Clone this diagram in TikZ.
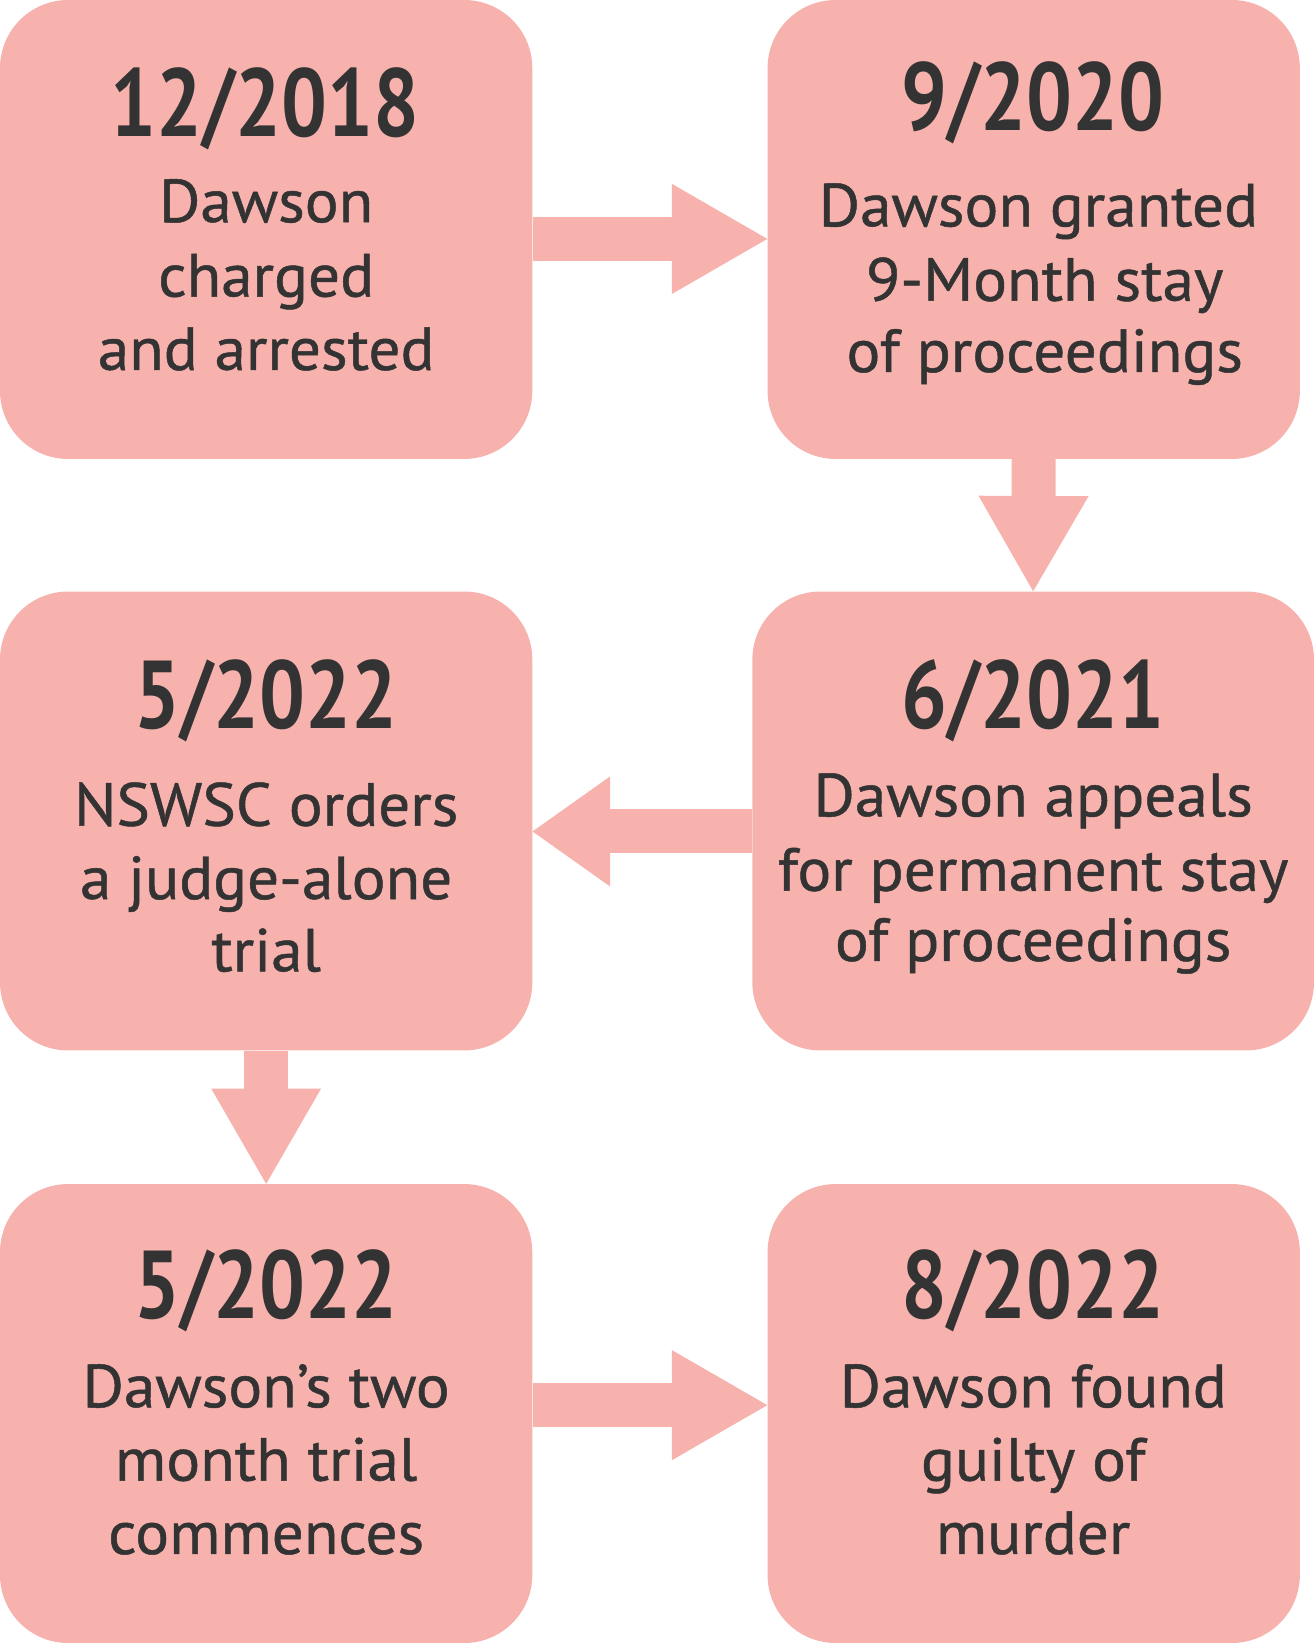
\documentclass[tikz,border=0pt]{standalone}
\usepackage{fontspec}
\setmainfont{PT Sans}
\newfontfamily\datefont{PT Sans}[FakeStretch=0.84]
\newfontfamily\bodyfont{PT Sans}[FakeStretch=1.04, FakeBold=0.8]
\usetikzlibrary{arrows.meta}
\definecolor{boxpink}{HTML}{F7B2AE}
\definecolor{txtgray}{HTML}{333333}
\tikzset{
  evbox/.style={fill=boxpink, draw=none, rounded corners=65pt, inner sep=0pt, minimum height=438pt},
  datetxt/.style={anchor=base, inner sep=0pt, text=txtgray, font=\datefont\bfseries\fontsize{92}{92}\selectfont},
  bodytxt/.style={anchor=base, inner sep=0pt, text=txtgray, font=\bodyfont\fontsize{58}{58}\selectfont},
  bigarrow/.style={draw=boxpink, line width=42pt, -{Triangle[length=91pt, width=105pt, line width=0pt]}},
  shortarrow/.style={draw=boxpink, line width=42pt, -{Triangle[length=74pt, width=105pt, line width=0pt]}}
}
\begin{document}
\begin{tikzpicture}[x=1pt, y=-1pt]
\useasboundingbox (0,0) rectangle (1254,1568);
% boxes
\node[evbox, minimum width=508pt] (b1) at (254,219) {};
\node[evbox, minimum width=508pt] (b2) at (986.5,219) {};
\node[evbox, minimum width=536pt] (b3) at (986,783.5) {};
\node[evbox, minimum width=508pt] (b4) at (254,783.5) {};
\node[evbox, minimum width=508pt] (b5) at (254,1349) {};
\node[evbox, minimum width=508pt] (b6) at (986.5,1349) {};
% arrows
\draw[bigarrow] ([yshift=-9pt]b1.east) -- ([yshift=-9pt]b2.west);
\draw[bigarrow] (b2.south) -- (b3.north);
\draw[shortarrow] ([yshift=-10pt]b3.west) -- ([yshift=-10pt]b4.east);
\draw[bigarrow] (b4.south) -- (b5.north);
\draw[bigarrow] ([yshift=8pt]b5.east) -- ([yshift=8pt]b6.west);
% box 1
\node[datetxt] (d1) at (253,130) {12/2018};
\node[bodytxt] (t1a) at (254,212) {Dawson};
\node[bodytxt] (t1b) at (254,283) {charged};
\node[bodytxt] (t1c) at (254,353) {and arrested};
% box 2
\node[datetxt] (d2) at (986,125) {9/2020};
\node[bodytxt] (t2a) at (991,216) {Dawson granted};
\node[bodytxt] (t2b) at (997,287) {9-Month stay};
\node[bodytxt] (t2c) at (997,355) {of proceedings};
% box 3
\node[datetxt] (d3) at (986,695) {6/2021};
\node[bodytxt] (t3a) at (986,779) {Dawson appeals};
\node[bodytxt] (t3b) at (986,850) {for permanent stay};
\node[bodytxt] (t3c) at (986,917) {of proceedings};
% box 4
\node[datetxt] (d4) at (254,695) {5/2022};
\node[bodytxt] (t4a) at (254,788) {NSWSC orders};
\node[bodytxt] (t4b) at (254,858) {a judge-alone};
\node[bodytxt] (t4c) at (254,927) {trial};
% box 5
\node[datetxt] (d5) at (254,1258) {5/2022};
\node[bodytxt] (t5a) at (254,1343) {Dawson’s two};
\node[bodytxt] (t5b) at (254,1413) {month trial};
\node[bodytxt] (t5c) at (254,1483) {commences};
% box 6
\node[datetxt] (d6) at (986,1258) {8/2022};
\node[bodytxt] (t6a) at (986,1343) {Dawson found};
\node[bodytxt] (t6b) at (986,1413) {guilty of};
\node[bodytxt] (t6c) at (986,1483) {murder};
\end{tikzpicture}
\end{document}
